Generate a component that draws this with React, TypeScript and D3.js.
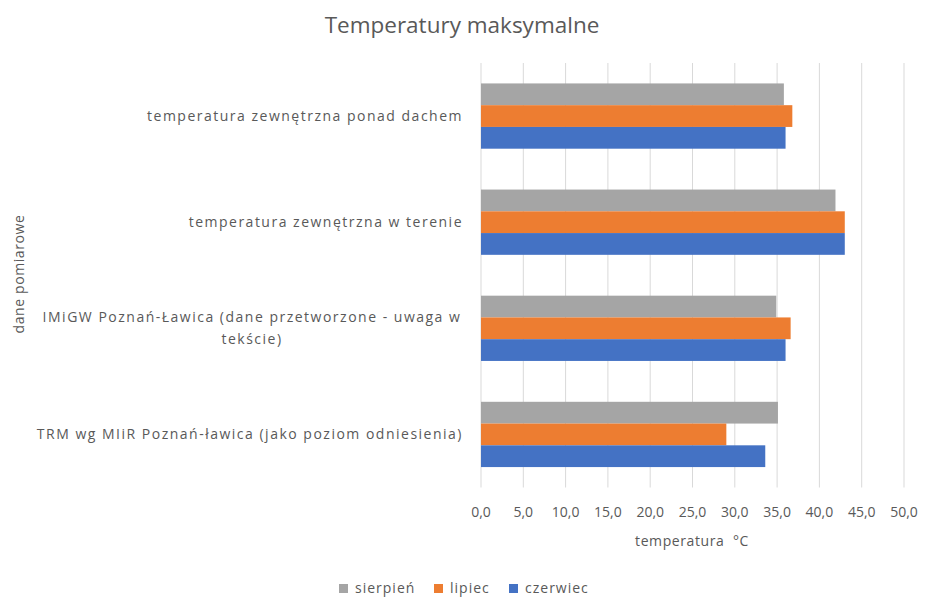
import React from "react";
import * as d3 from "d3";

const categories = [
  "temperatura zewnętrzna ponad dachem",
  "temperatura zewnętrzna w terenie",
  "IMiGW Poznań-Ławica (dane przetworzone - uwaga w tekście)",
  "TRM wg MIiR Poznań-ławica (jako poziom odniesienia)",
];
const categoryLines = [
  ["temperatura zewnętrzna ponad dachem"],
  ["temperatura zewnętrzna w terenie"],
  ["IMiGW Poznań-Ławica (dane przetworzone - uwaga w", "tekście)"],
  ["TRM wg MIiR Poznań-ławica (jako poziom odniesienia)"],
];
const seriesNames = ["sierpień", "lipiec", "czerwiec"];
const seriesColors = ["#A5A5A5", "#ED7D31", "#4472C4"];
const sierpien = [35.8, 41.9, 34.9, 35.1];
const lipiec = [36.8, 43.0, 36.6, 29.0];
const czerwiec = [36.0, 43.0, 36.0, 33.6];
const seriesValues = [sierpien, lipiec, czerwiec];
const xTicks = [0, 5, 10, 15, 20, 25, 30, 35, 40, 45, 50];

const W = 925;
const H = 597;
const left = 481;
const right = 904;
const top = 63;
const bottom = 487.5;
const textColor = "#595959";
const font = "'Open Sans', sans-serif";

export default function App() {
  const x = d3.scaleLinear().domain([0, 50]).range([left, right]);
  const y = d3.scaleBand().domain(categories).range([top, bottom]).paddingInner(0.385).paddingOuter(0.1925);
  const inner = d3.scaleBand().domain(seriesNames).range([0, y.bandwidth()]);
  const fmt = (v: number) => d3.format(".1f")(v).replace(".", ",");

  const legendItems = [
    { name: "sierpień", sx: 339, tx: 355 },
    { name: "lipiec", sx: 434, tx: 450 },
    { name: "czerwiec", sx: 509, tx: 525 },
  ];

  return (
    <svg width={W} height={H} style={{ position: "absolute", left: 0, top: 0, background: "#fff" }} fontFamily={font}>
      <rect x={0} y={0} width={W} height={H} fill="#fff" />
      <text x={462} y={33} textAnchor="middle" fontSize={22.5} fill={textColor}>
        Temperatury maksymalne
      </text>
      {xTicks.map((t) => (
        <line key={"g" + t} x1={x(t)} x2={x(t)} y1={top} y2={bottom} stroke="#D9D9D9" strokeWidth={1} />
      ))}
      {categories.map((c, ci) =>
        seriesNames.map((s, si) => (
          <rect
            key={c + s}
            x={x(0)}
            y={(y(c) as number) + (inner(s) as number)}
            width={x(seriesValues[si][ci]) - x(0)}
            height={inner.bandwidth()}
            fill={seriesColors[si]}
          />
        ))
      )}
      {categories.map((c, ci) => {
        const lines = categoryLines[ci];
        const cy = (y(c) as number) + y.bandwidth() / 2;
        const lh = 21.6;
        const start = cy - ((lines.length - 1) * lh) / 2;
        return (
          <text key={"l" + c} textAnchor={lines.length > 1 ? "middle" : "end"} fontSize={14} letterSpacing={1.5} fill={textColor}>
            {lines.map((ln, li) => (
              <tspan key={li} x={lines.length > 1 ? 252 : 463} y={start + li * lh} dy="0.35em">
                {ln}
              </tspan>
            ))}
          </text>
        );
      })}
      {xTicks.map((t) => (
        <text key={"t" + t} x={x(t)} y={512} dy="0.35em" textAnchor="middle" fontSize={14} fill={textColor}>
          {fmt(t)}
        </text>
      ))}
      <text x={692} y={541} dy="0.35em" textAnchor="middle" fontSize={14} letterSpacing={0.6} fill={textColor}>
        {"temperatura\u00A0\u00A0°C"}
      </text>
      <text transform={`translate(19,274) rotate(-90)`} dy="0.35em" textAnchor="middle" fontSize={14} letterSpacing={0.6} fill={textColor}>
        dane pomiarowe
      </text>
      {legendItems.map((it, i) => (
        <g key={it.name}>
          <rect x={it.sx} y={584} width={9} height={9} fill={seriesColors[i]} />
          <text x={it.tx} y={588} dy="0.35em" fontSize={14} letterSpacing={1} fill={textColor}>
            {it.name}
          </text>
        </g>
      ))}
    </svg>
  );
}
